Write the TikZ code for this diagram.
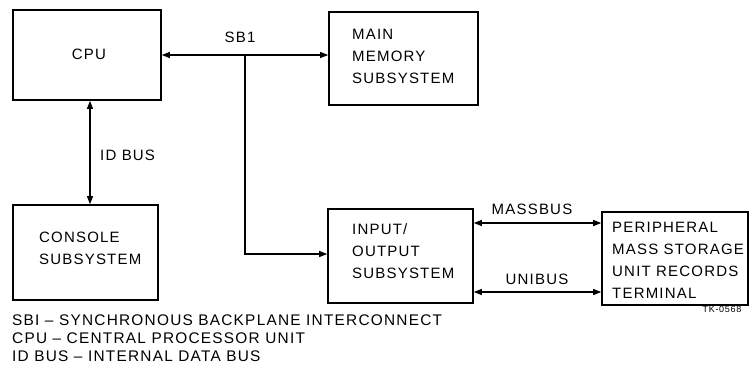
\documentclass[tikz,border=0pt]{standalone}
\usepackage{fontspec}
\setmainfont{Liberation Sans}[LetterSpace=8]
\usetikzlibrary{arrows.meta}
\begin{document}
\begin{tikzpicture}[x=1pt,y=-1pt,
  box/.style={draw, line width=1.6pt, inner sep=0pt, rectangle},
  txt/.style={font=\fontsize{15}{22}\selectfont, align=left, inner sep=0pt, anchor=west},
  lbl/.style={font=\fontsize{15}{22}\selectfont, inner sep=0pt},
  conn/.style={line width=1.1pt, {Triangle[length=8pt,width=6pt]}-{Triangle[length=8pt,width=6pt]}},
  conn1/.style={line width=1.1pt, -{Triangle[length=8pt,width=6pt]}}]
\useasboundingbox (0,0) rectangle (752,373);
\node[box, minimum width=148pt, minimum height=90pt] (cpu) at (87,55) {};
\node[box, minimum width=149pt, minimum height=93pt] (mem) at (403.5,58.5) {};
\node[box, minimum width=145pt, minimum height=95pt] (con) at (85.5,252.5) {};
\node[box, minimum width=145pt, minimum height=94pt] (io) at (400.5,256) {};
\node[box, minimum width=146pt, minimum height=93pt] (per) at (675,258.5) {};
\node[lbl] (cpuT) at (89,54) {CPU};
\node[txt] (memT) at (352,56) {MAIN\\MEMORY\\SUBSYSTEM};
\node[txt] (conT) at (39,248) {CONSOLE\\SUBSYSTEM};
\node[txt] (ioT) at (352,251) {INPUT/\\OUTPUT\\SUBSYSTEM};
\node[txt] (perT) at (612,260) {PERIPHERAL\\MASS STORAGE\\UNIT RECORDS\\TERMINAL};
\coordinate (br) at (245,55);
\draw[conn] (cpu.east) -- (cpu.east -| mem.west);
\node[lbl] (sb1) at (240,37) {SB1};
\draw[conn1] (br) |- ([yshift=2pt]io.west);
\draw[conn] ([xshift=3pt]cpu.south) -- ([xshift=3pt]cpu.south |- con.north);
\node[lbl, anchor=west] (idbus) at (100,155) {ID BUS};
\draw[conn] ([yshift=33pt]io.east) -- ([yshift=33pt]io.east -| per.west);
\node[lbl] (mb) at (532,209) {MASSBUS};
\draw[conn] ([yshift=-36pt]io.east) -- ([yshift=-36pt]io.east -| per.west);
\node[lbl] (ub) at (537,279) {UNIBUS};
\node[txt, font=\fontsize{15.4}{18}\selectfont] (leg) at (12,338) {SBI -- SYNCHRONOUS BACKPLANE INTERCONNECT\\CPU -- CENTRAL PROCESSOR UNIT\\ID BUS -- INTERNAL DATA BUS};
\node[lbl, font=\fontsize{9}{10}\selectfont] (tk) at (722,309) {TK-0568};
\end{tikzpicture}
\end{document}
